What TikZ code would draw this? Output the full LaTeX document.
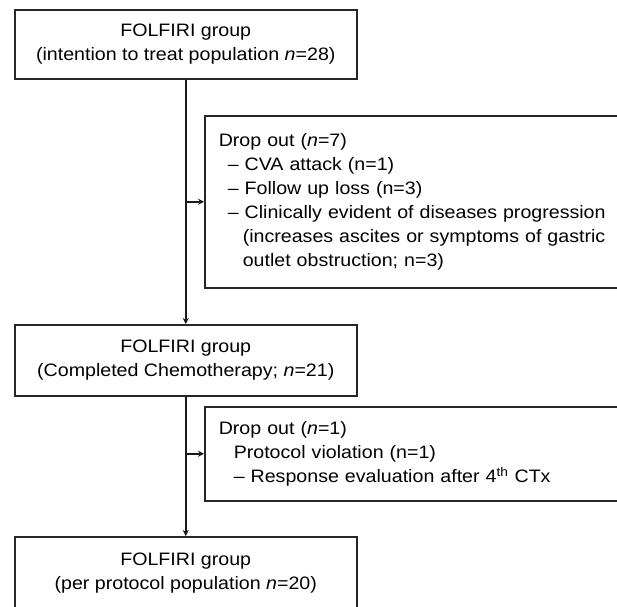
\documentclass[tikz,border=0pt]{standalone}
\usepackage{fontspec}
\setmainfont{Liberation Sans}[FakeStretch=1.09]
\usetikzlibrary{arrows.meta}
\begin{document}
\begin{tikzpicture}[x=1pt,y=-1pt,
  every node/.style={font=\fontsize{18}{24}\selectfont},
  mainbox/.style={draw=black!85, line width=1.5pt, align=center, anchor=north west,
    minimum width=342pt, inner sep=0pt},
  dropbox/.style={draw=black!85, line width=1.5pt, align=left, anchor=north west,
    text width=385pt, inner xsep=14pt, inner ysep=0pt},
  conn/.style={line width=2pt, black!90},
  arr/.style={conn, -{Stealth[length=6pt,width=6pt]}}]
\path[use as bounding box, clip] (0,0) rectangle (617,606);

\node[mainbox, minimum height=69pt] (b1) at (14,9)
  {FOLFIRI group\\(intention to treat population \textit{n}=28)};
\node[dropbox, minimum height=172pt] (d1) at (204,115)
  {\mbox{Drop out (\textit{n}=7)}\\
   \mbox{\hspace*{9pt}– CVA attack (n=1)}\\
   \mbox{\hspace*{9pt}– Follow up loss (n=3)}\\
   \mbox{\hspace*{9pt}– Clinically evident of diseases progression}\\
   \mbox{\hspace*{24pt}(increases ascites or symptoms of gastric}\\
   \mbox{\hspace*{24pt}outlet obstruction; n=3)}};
\node[mainbox, minimum height=71pt] (b3) at (14,324)
  {FOLFIRI group\\(Completed Chemotherapy; \textit{n}=21)};
\node[dropbox, minimum height=94pt] (d2) at (204,406)
  {\mbox{Drop out (\textit{n}=1)}\\
   \mbox{\hspace*{15pt}Protocol violation (n=1)}\\
   \mbox{\hspace*{15pt}– Response evaluation after 4\textsuperscript{th} CTx}};
\node[mainbox, minimum height=72pt] (b5) at (14,536)
  {FOLFIRI group\\(per protocol population \textit{n}=20)};

\draw[arr] (b1.south) -- (b3.north);
\draw[arr] (b1.south |- d1.west) -- (d1.west);
\draw[arr] (b3.south) -- (b5.north);
\draw[arr] (b3.south |- d2.west) -- (d2.west);
\end{tikzpicture}
\end{document}
